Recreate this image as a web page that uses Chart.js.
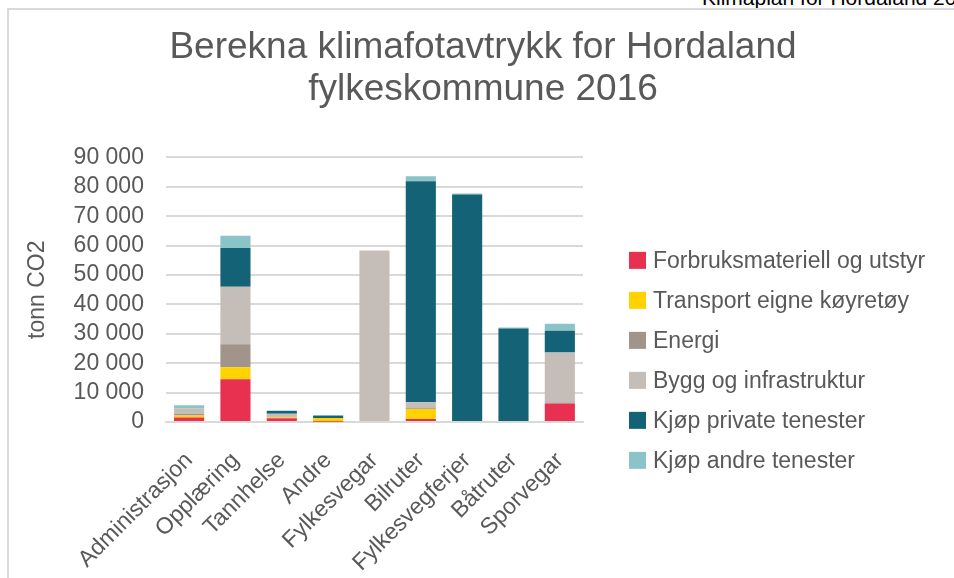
<!DOCTYPE html>
<html>
<head>
<meta charset="utf-8">
<script src="https://cdn.jsdelivr.net/npm/chart.js@4.4.1/dist/chart.umd.min.js"></script>
<style>
  html, body { margin: 0; padding: 0; background: #fff; overflow: hidden; }
  #wrap { position: relative; width: 954px; height: 578px; }
  #frame {
    position: absolute; left: 7px; top: 8px; right: 0; bottom: 0;
    border-left: 2px solid #d9d9d9; border-top: 2px solid #d9d9d9;
  }
  #header {
    position: absolute; left: 702px; top: -13px; white-space: nowrap;
    font: 21px/1 "Liberation Sans", Arial, sans-serif; color: #000;
  }
  canvas { position: absolute; left: 0; top: 0; }
</style>
</head>
<body>
<div id="wrap">
  <div id="header">Klimaplan for Hordaland 2016</div>
  <div id="frame"></div>
  <canvas id="myChart" width="954" height="578"></canvas>
</div>
<script>
const categories = ['Administrasjon', 'Opplæring', 'Tannhelse', 'Andre', 'Fylkesvegar', 'Bilruter', 'Fylkesvegferjer', 'Båtruter', 'Sporvegar'];

const forbruk = [1500, 14500, 1300, 100, 0, 1000, 0, 0, 6300];
const transport = [700, 4100, 300, 1300, 0, 3400, 0, 0, 0];
const energi = [500, 7800, 200, 0, 0, 300, 0, 0, 300];
const bygg = [2000, 19600, 1000, 0, 58300, 2000, 0, 0, 17000];
const kjopPrivate = [0, 13200, 900, 700, 0, 75200, 77400, 31800, 7400];
const kjopAndre = [1000, 4100, 200, 300, 0, 1700, 300, 300, 2400];

const textColor = '#595959';
const fontFamily = '"Liberation Sans", Arial, Helvetica, sans-serif';

function makeSet(label, values, color) {
  return {
    label: label,
    data: values,
    backgroundColor: color,
    borderWidth: 0,
    barPercentage: 0.65,
    categoryPercentage: 1,
  };
}

const data = {
  labels: categories,
  datasets: [
    makeSet('Forbruksmateriell og utstyr', forbruk, '#e83050'),
    makeSet('Transport eigne køyretøy', transport, '#ffd200'),
    makeSet('Energi', energi, '#a0948b'),
    makeSet('Bygg og infrastruktur', bygg, '#c5bdb7'),
    makeSet('Kjøp private tenester', kjopPrivate, '#136275'),
    makeSet('Kjøp andre tenester', kjopAndre, '#8ac3c8'),
  ],
};

// legend drawn beside the plot, the built-in one gets squeezed on the right
const sideLegend = {
  id: 'sideLegend',
  afterDraw(chart) {
    const { ctx, chartArea } = chart;
    const boxSize = 17;
    const rowGap = 40;
    const x = chartArea.right + 46;
    let y = chartArea.top + 103;
    ctx.save();
    ctx.font = '23px ' + fontFamily;
    ctx.textBaseline = 'middle';
    chart.data.datasets.forEach((ds) => {
      ctx.fillStyle = ds.backgroundColor;
      ctx.fillRect(x, y - boxSize / 2, boxSize, boxSize);
      ctx.fillStyle = textColor;
      ctx.fillText(ds.label, x + boxSize + 7, y + 1);
      y += rowGap;
    });
    ctx.restore();
  },
};

const config = {
  type: 'bar',
  data: data,
  options: {
    responsive: false,
    animation: false,
    layout: {
      padding: { left: 24, top: 4, right: 12, bottom: 0 },
    },
    plugins: {
      title: {
        display: true,
        text: ['Berekna klimafotavtrykk for Hordaland', 'fylkeskommune 2016'],
        color: textColor,
        font: { family: fontFamily, size: 37, weight: 'normal', lineHeight: 1.14 },
        padding: { top: 23, bottom: 46 },
      },
      legend: { display: false },
      tooltip: { enabled: false },
    },
    scales: {
      x: {
        stacked: true,
        grid: { display: false },
        border: { color: '#d9d9d9', width: 2 },
        ticks: {
          autoSkip: false,
          maxRotation: 45,
          minRotation: 45,
          padding: 17,
          color: textColor,
          font: { family: fontFamily, size: 23 },
        },
        afterFit: (scale) => {
          scale.height = 156;
        },
      },
      y: {
        stacked: true,
        min: 0,
        max: 90000,
        grid: { color: '#d9d9d9', lineWidth: 2, drawTicks: false },
        border: { display: false },
        ticks: {
          stepSize: 10000,
          padding: 22,
          color: textColor,
          font: { family: fontFamily, size: 23, lineHeight: 1 },
          callback: (v) => String(v).replace(/\B(?=(\d{3})+(?!\d))/g, ' '),
        },
        title: {
          display: true,
          text: 'tonn CO2',
          color: textColor,
          font: { family: fontFamily, size: 23 },
          padding: { top: 0, bottom: 0 },
        },
      },
      // empty space on the right where the legend sits
      legendSpace: {
        type: 'linear',
        position: 'right',
        display: true,
        grid: { display: false },
        border: { display: false },
        ticks: { display: false },
        afterFit: (scale) => {
          scale.width = 359;
        },
      },
    },
  },
  plugins: [sideLegend],
};

const ctx = document.getElementById('myChart');
const myChart = new Chart(ctx, config);
</script>
</body>
</html>
